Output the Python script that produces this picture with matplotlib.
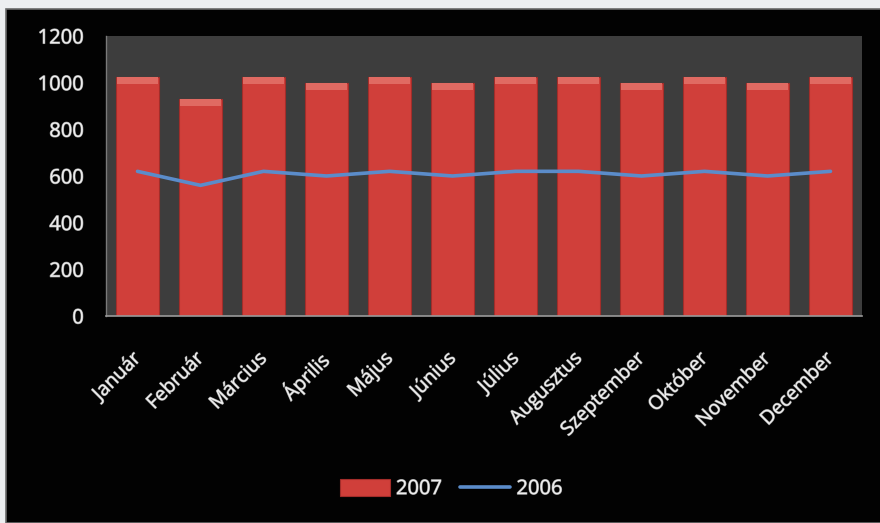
import matplotlib.pyplot as plt
import matplotlib.patheffects as pe
from matplotlib.patches import Rectangle
from matplotlib.transforms import ScaledTranslation

# data
months = ["Január", "Február", "Március", "Április", "Május", "Június",
          "Július", "Augusztus", "Szeptember", "Október", "November", "December"]
values_2007 = [1025, 930, 1025, 1000, 1025, 1000, 1025, 1025, 1000, 1025, 1000, 1025]
values_2006 = [620, 560, 620, 600, 620, 600, 620, 620, 600, 620, 600, 620]
y_ticks = [0, 200, 400, 600, 800, 1000, 1200]

plt.rcParams['font.family'] = ['Open Sans', 'DejaVu Sans']
text_color = '#eeeeee'
glow = [pe.withStroke(linewidth=0.8, foreground='#8a8a8a')]

fig = plt.figure(figsize=(8.8, 5.23), dpi=100, facecolor='#eceef0')

# black chart panel with a thin grey frame
W, H = 880, 523
fig.patches.append(Rectangle((6 / W, 0), 1, 1 - 9 / H, transform=fig.transFigure,
                             facecolor='#020202', edgecolor='#6a6a6a', linewidth=1.2,
                             zorder=-1))

ax = fig.add_axes([106 / W, 1 - 316 / H, (862 - 106) / W, (316 - 36) / H])
ax.set_facecolor('#3d3d3d')

x = list(range(len(months)))
bar_w = 0.68

# main bars
bars = ax.bar(x, values_2007, width=bar_w, color='#d03f3a', edgecolor='#a32d2a',
              linewidth=0.8, zorder=2, label='2007')
# lighter bevel at the top of each bar
cap = 32
ax.bar(x, [cap] * len(x), bottom=[v - cap for v in values_2007], width=bar_w * 0.94,
       color='#e06a62', linewidth=0, zorder=3)

line, = ax.plot(x, values_2006, color='#5b8cca', linewidth=2.6, solid_joinstyle='round',
                solid_capstyle='round', zorder=4, label='2006')

ax.set_xlim(-0.5, len(months) - 0.5)
ax.set_ylim(0, 1200)
ax.set_yticks(y_ticks)
ax.set_yticklabels([str(t) for t in y_ticks], color=text_color, fontsize=14.5,
                   path_effects=glow)
ax.set_xticks(x)
ax.set_xticklabels(months, rotation=45, ha='right', va='top', color=text_color,
                   fontsize=14, path_effects=glow)
ax.tick_params(axis='y', length=0, pad=16)
ax.tick_params(axis='x', length=0, pad=24)
for lbl in ax.get_xticklabels():
    lbl.set_transform(lbl.get_transform() + ScaledTranslation(5 / 72, 0, fig.dpi_scale_trans))

for side in ['top', 'right']:
    ax.spines[side].set_visible(False)
ax.spines['left'].set_color('#7a7a7a')
ax.spines['left'].set_linewidth(1)
ax.spines['bottom'].set_color('#9a9a9a')
ax.spines['bottom'].set_linewidth(1.2)

leg = fig.legend([bars, line], ['2007', '2006'], loc='center',
                 bbox_to_anchor=(451 / W, 1 - 489 / H),
                 ncol=2, frameon=False, fontsize=14.5, handlelength=2.5,
                 handleheight=0.9, columnspacing=0.9, handletextpad=0.3)
for t in leg.get_texts():
    t.set_color(text_color)
    t.set_path_effects(glow)

fig.savefig('out.png', dpi=100, facecolor=fig.get_facecolor())
